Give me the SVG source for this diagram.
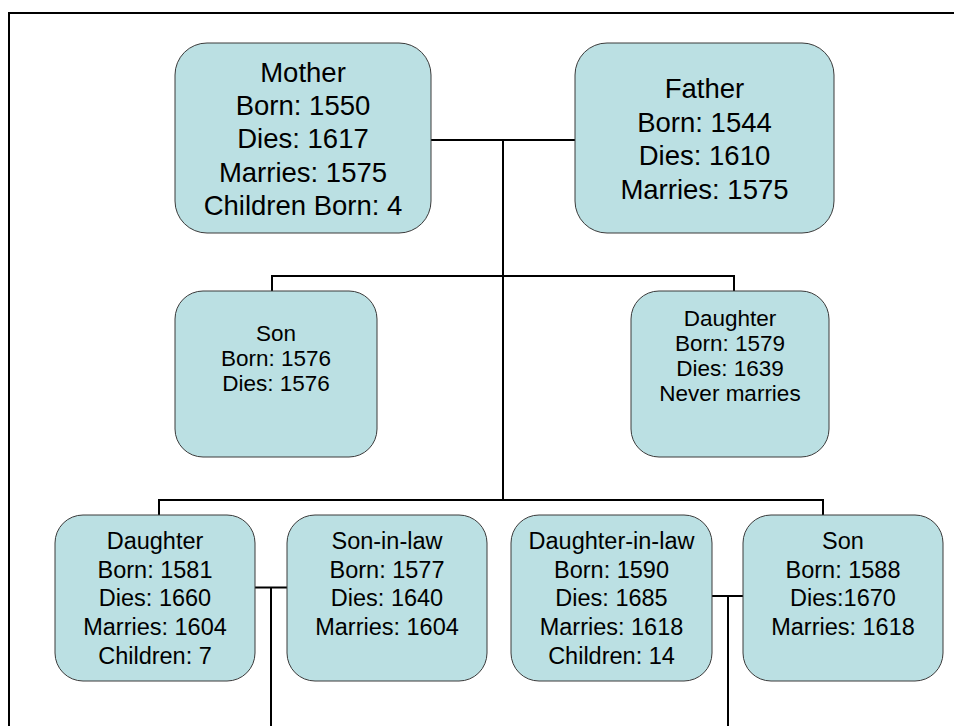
<svg xmlns="http://www.w3.org/2000/svg" width="954" height="726" viewBox="0 0 954 726">
<style>
.box{fill:#BBE0E3;stroke:#3a3a3a;stroke-width:1}
.ln{stroke:#000;stroke-width:2;fill:none}
text{font-family:"Liberation Sans",Arial,sans-serif;fill:#000;text-anchor:middle}
.t1{font-size:27.5px}
.t2{font-size:23.5px}
.t3{font-size:22.5px}
</style>
<rect width="954" height="726" fill="#fff"/>
<g id="frame"><path class="ln" d="M9,726 V13 H954"/></g>
<g id="connectors">
<path class="ln" d="M431,140 H575"/>
<path class="ln" d="M503,140 V500"/>
<path class="ln" d="M272,291 V276 H734 V291"/>
<path class="ln" d="M159,515 V500 H823 V515"/>
<path class="ln" d="M255,587.5 H287"/>
<path class="ln" d="M271,587.5 V726"/>
<path class="ln" d="M712,596 H743"/>
<path class="ln" d="M728,596 V726"/>
</g>
<g id="mother"><rect class="box" x="175" y="43" width="256" height="190" rx="32"/>
<text class="t1"><tspan x="303" y="82">Mother</tspan><tspan x="303" y="115.2">Born: 1550</tspan><tspan x="303" y="148.4">Dies: 1617</tspan><tspan x="303" y="181.6">Marries: 1575</tspan><tspan x="303" y="214.8">Children Born: 4</tspan></text></g>
<g id="father"><rect class="box" x="575" y="43" width="259" height="190" rx="32"/>
<text class="t1"><tspan x="704.5" y="98.3">Father</tspan><tspan x="704.5" y="131.7">Born: 1544</tspan><tspan x="704.5" y="165.2">Dies: 1610</tspan><tspan x="704.5" y="198.6">Marries: 1575</tspan></text></g>
<g id="son1"><rect class="box" x="175" y="291" width="202" height="166" rx="28"/>
<text class="t3"><tspan x="276" y="341">Son</tspan><tspan x="276" y="366">Born: 1576</tspan><tspan x="276" y="391">Dies: 1576</tspan></text></g>
<g id="daughter1"><rect class="box" x="631" y="291" width="198" height="166" rx="28"/>
<text class="t3"><tspan x="730" y="326">Daughter</tspan><tspan x="730" y="351">Born: 1579</tspan><tspan x="730" y="376">Dies: 1639</tspan><tspan x="730" y="401">Never marries</tspan></text></g>
<g id="daughter2"><rect class="box" x="55" y="515" width="200" height="166" rx="28"/>
<text class="t2"><tspan x="155" y="549">Daughter</tspan><tspan x="155" y="577.7">Born: 1581</tspan><tspan x="155" y="606.4">Dies: 1660</tspan><tspan x="155" y="635.1">Marries: 1604</tspan><tspan x="155" y="663.8">Children: 7</tspan></text></g>
<g id="soninlaw"><rect class="box" x="287" y="515" width="200" height="166" rx="28"/>
<text class="t2"><tspan x="387" y="549">Son-in-law</tspan><tspan x="387" y="577.7">Born: 1577</tspan><tspan x="387" y="606.4">Dies: 1640</tspan><tspan x="387" y="635.1">Marries: 1604</tspan></text></g>
<g id="daughterinlaw"><rect class="box" x="511" y="515" width="201" height="166" rx="28"/>
<text class="t2"><tspan x="611.5" y="549">Daughter-in-law</tspan><tspan x="611.5" y="577.7">Born: 1590</tspan><tspan x="611.5" y="606.4">Dies: 1685</tspan><tspan x="611.5" y="635.1">Marries: 1618</tspan><tspan x="611.5" y="663.8">Children: 14</tspan></text></g>
<g id="son2"><rect class="box" x="743" y="515" width="200" height="166" rx="28"/>
<text class="t2"><tspan x="843" y="549">Son</tspan><tspan x="843" y="577.7">Born: 1588</tspan><tspan x="843" y="606.4">Dies:1670</tspan><tspan x="843" y="635.1">Marries: 1618</tspan></text></g>
</svg>
